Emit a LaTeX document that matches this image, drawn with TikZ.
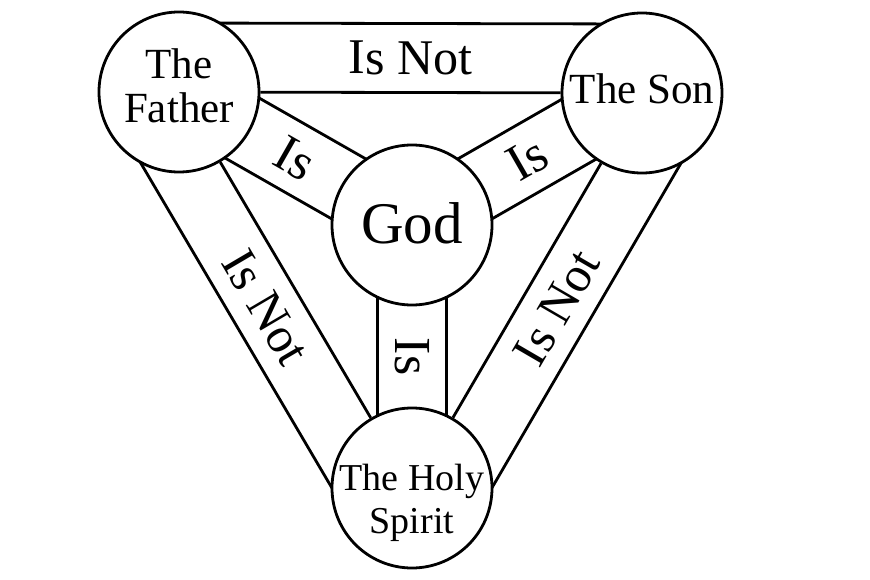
\documentclass[tikz,border=0pt]{standalone}
\usepackage{fontspec}
\setmainfont{Liberation Serif}
\usetikzlibrary{calc,backgrounds}

\begin{document}
\begin{tikzpicture}[x=1pt, y=-1pt,
                    every node/.style={inner sep=0pt},
                    person/.style={circle, draw, fill=white, line width=2.8pt,
                                   minimum size=160pt},
                    who/.style={align=center, font=\fontsize{43}{44}\selectfont},
                    band/.style={line width=2.8pt},
                    isnotlabel/.style={sloped, font=\fontsize{50}{50}\selectfont},
                    islabel/.style={sloped, allow upside down,
                                    font=\fontsize{52}{52}\selectfont}]
    \useasboundingbox (0,0) rectangle (870,580);

    % the four circles
    \node[person] (fa) at (179,92) {};
    \node[person] (so) at (642,93) {};
    \node[person] (go) at (412,225) {};
    \node[person] (hs) at (412,488) {};

    \node[who] (fa-t) at ([yshift=6.7pt]fa.center) {The\\Father};
    \node[who] (so-t) at ([yshift=4.4pt]so.center) {The Son};
    \node[who, font=\fontsize{59}{59}\selectfont] (go-t) at ([yshift=1.8pt]go.center) {God};
    \node[who, font=\fontsize{38}{43}\selectfont] (hs-t) at ([yshift=-14.6pt]hs.center) {The Holy\\Spirit};

    % outer bands
    \begin{scope}[on background layer]
    \foreach \a/\b in {fa/so, so/hs, hs/fa} {
        \draw[band] (\a) -- (\b);
        \draw[band] ($(\a)!69pt!90:(\b)$) -- ($(\b)!69pt!-90:(\a)$);
        \path ($(\a)!34.5pt!90:(\b)$) -- node[isnotlabel] (isnot-\a) {Is Not} ($(\b)!34.5pt!-90:(\a)$);
    }
    % inner bands
    \foreach \b in {fa, so, hs} {
        \draw[band] ($(go)!34.5pt!90:(\b)$) -- ($(\b)!34.5pt!-90:(go)$);
        \draw[band] ($(go)!34.5pt!-90:(\b)$) -- ($(\b)!34.5pt!90:(go)$);
    }
    \end{scope}
    \foreach \a/\b in {fa/go, go/so, go/hs}
        \path (\a) -- node[islabel] (is-\a\b) {Is} (\b);
\end{tikzpicture}
\end{document}
